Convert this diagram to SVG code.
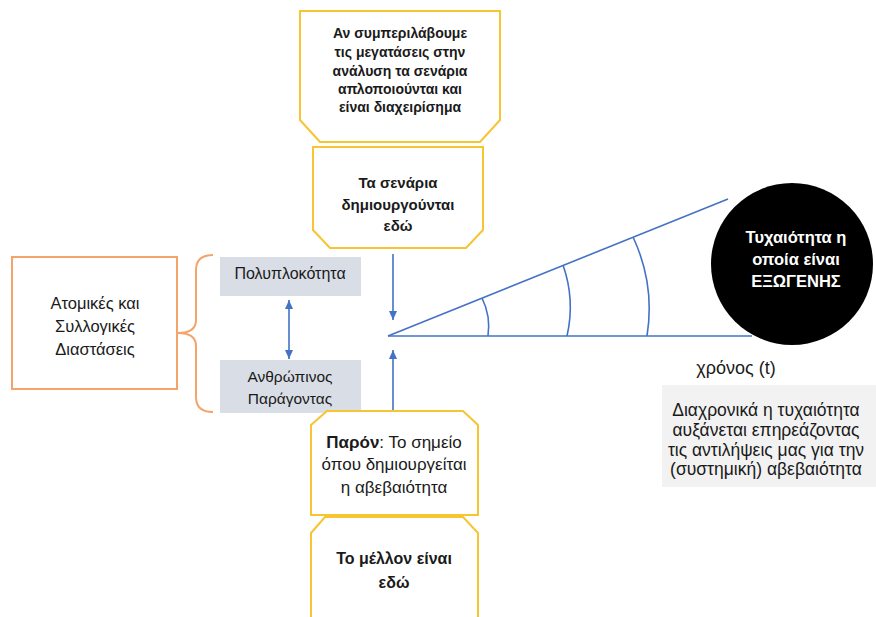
<svg xmlns="http://www.w3.org/2000/svg" width="876" height="617" viewBox="0 0 876 617">
<style>
text { font-family: "Liberation Sans", Arial, sans-serif; fill: #1a1a1a; text-anchor: middle; }
.b { font-weight: bold; }
.yel { fill: #ffffff; stroke: #F7C531; stroke-width: 2; }
.org { fill: #ffffff; stroke: #F4A46A; stroke-width: 2; }
.gray { fill: #D9DEE6; }
.blue { stroke: #4472C4; stroke-width: 1.6; fill: none; }
.w { fill: #ffffff; }
</style>
<defs>
<marker id="ah" markerWidth="10" markerHeight="10" refX="9" refY="5" orient="auto-start-reverse" markerUnits="userSpaceOnUse">
<path d="M0,1 L9,5 L0,9 z" fill="#4472C4"/>
</marker>
</defs>
<rect width="876" height="617" fill="#ffffff"/>

<g id="box-inclusion">
<polygon class="yel" points="300,11 500,11 500,120 480,142 320,142 300,120"/>
<text class="b" font-size="14" x="400" y="38">Αν συμπεριλάβουμε</text>
<text class="b" font-size="14" x="400" y="57">τις μεγατάσεις στην</text>
<text class="b" font-size="14" x="400" y="76">ανάλυση τα σενάρια</text>
<text class="b" font-size="14" x="400" y="94">απλοποιούνται και</text>
<text class="b" font-size="14" x="400" y="112">είναι διαχειρίσημα</text>
</g>

<g id="box-scenarios">
<polygon class="yel" points="313,147 483,147 483,230 466,248 330,248 313,230"/>
<text class="b" font-size="15" x="398" y="188">Τα σενάρια</text>
<text class="b" font-size="15" x="398" y="210">δημιουργούνται</text>
<text class="b" font-size="15" x="398" y="231">εδώ</text>
</g>

<g id="box-dimensions">
<rect class="org" x="12" y="257" width="165" height="132"/>
<text font-size="16.5" x="95" y="309">Ατομικές και</text>
<text font-size="16.5" x="95" y="332">Συλλογικές</text>
<text font-size="16.5" x="95" y="355">Διαστάσεις</text>
</g>

<g id="brace">
<path d="M213,255 Q196,255 196,270 L196,320 Q196,333 178,333 Q196,333 196,346 L196,397 Q196,412 213,412" fill="none" stroke="#F4A46A" stroke-width="2"/>
</g>

<g id="box-complexity">
<rect class="gray" x="220" y="257" width="141" height="39"/>
<text font-size="16" x="290" y="279">Πολυπλοκότητα</text>
</g>

<g id="box-human">
<rect class="gray" x="220" y="360" width="141" height="53"/>
<text font-size="15.5" x="290" y="382">Ανθρώπινος</text>
<text font-size="15.5" x="290" y="404">Παράγοντας</text>
</g>

<g id="box-present">
<polygon class="yel" points="327,411 463,411 478,425 478,515 311,515 311,425"/>
<text font-size="17" x="394" y="448"><tspan class="b">Παρόν</tspan>: Το σημείο</text>
<text font-size="17" x="394" y="470">όπου δημιουργείται</text>
<text font-size="17" x="394" y="493">η αβεβαιότητα</text>
</g>

<g id="box-future">
<polygon class="yel" points="325,517 463,517 478,533 478,625 311,625 311,533"/>
<text class="b" font-size="16" x="394" y="564">Το μέλλον είναι</text>
<text class="b" font-size="16" x="394" y="588">εδώ</text>
</g>

<g id="circle-randomness">
<circle cx="792" cy="264" r="81" fill="#000000"/>
<text class="b w" font-size="16.5" x="796" y="243">Τυχαιότητα η</text>
<text class="b w" font-size="16.5" x="796" y="265">οποία είναι</text>
<text class="b w" font-size="16.5" x="796" y="287">ΕΞΩΓΕΝΗΣ</text>
</g>

<g id="label-time">
<text font-size="18" x="736" y="374">χρόνος (t)</text>
</g>

<g id="box-note">
<rect x="662" y="385" width="214" height="102" fill="#F2F2F2"/>
<text font-size="17.5" x="766" y="416">Διαχρονικά η τυχαιότητα</text>
<text font-size="17.5" x="766" y="436">αυξάνεται επηρεάζοντας</text>
<text font-size="17.5" x="766" y="456">τις αντιλήψεις μας για την</text>
<text font-size="17.5" x="766" y="475">(συστημική) αβεβαιότητα</text>
</g>

<g id="connectors">
<line class="blue" x1="393" y1="254" x2="393" y2="320" marker-end="url(#ah)"/>
<line class="blue" x1="393" y1="410" x2="393" y2="350" marker-end="url(#ah)"/>
<line class="blue" x1="289" y1="300" x2="289" y2="359" marker-start="url(#ah)" marker-end="url(#ah)"/>
<line class="blue" x1="388" y1="336" x2="728" y2="199"/>
<line class="blue" x1="388" y1="336" x2="752" y2="336"/>
<path class="blue" d="M482,298 A65,65 0 0 1 488,336"/>
<path class="blue" d="M563,265 A128,128 0 0 1 567,336"/>
<path class="blue" d="M633,237 A170,170 0 0 1 647,336"/>
</g>
</svg>
